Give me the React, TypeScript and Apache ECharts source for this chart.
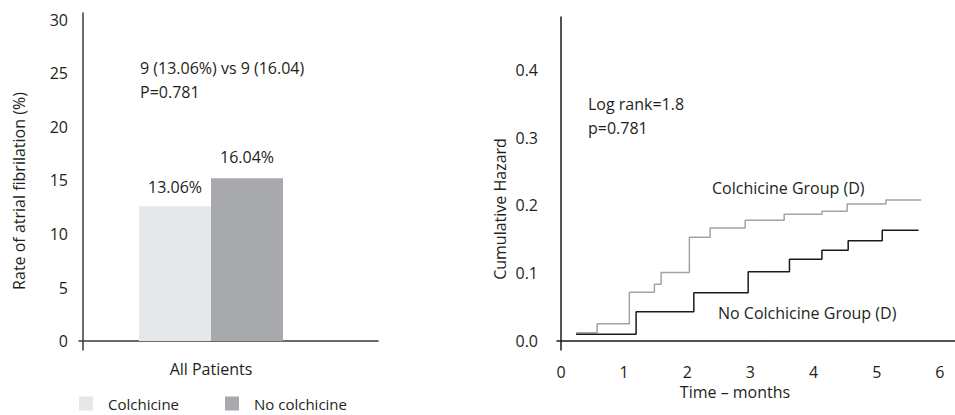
import React, { useEffect, useRef } from "react";
import * as echarts from "echarts";

// Left panel: bar chart
const barCategories = ["All Patients"];
const barSeriesNames = ["Colchicine", "No colchicine"];
const barValues = [12.6, 15.2];
const barLabels = ["13.06%", "16.04%"];
const leftTicks = [0, 5, 10, 15, 20, 25, 30];

// Right panel: cumulative hazard step curves [months, hazard]
const colchicineCurve: [number, number][] = [
  [0.238, 0.012], [0.571, 0.0255], [1.082, 0.0719], [1.479, 0.0837], [1.585, 0.1011],
  [2.033, 0.1531], [2.361, 0.1668], [2.916, 0.1782], [3.534, 0.187], [4.132, 0.1914],
  [4.532, 0.2022], [5.147, 0.2081], [5.705, 0.2081],
];
const noColchicineCurve: [number, number][] = [
  [0.238, 0.01], [1.189, 0.0432], [2.103, 0.0713], [2.964, 0.1023], [3.618, 0.1206],
  [4.132, 0.1337], [4.548, 0.1479], [5.087, 0.1632], [5.662, 0.1632],
];
const rightYTicks = [0, 0.1, 0.2, 0.3, 0.4];
const rightXTicks = [0, 1, 2, 3, 4, 5, 6];

const FONT = "Open Sans";
const TXT = "#231f20";
const FS = 16;

export default function App() {
  const ref = useRef<HTMLDivElement>(null);
  useEffect(() => {
    if (!ref.current) return;
    const chart = echarts.init(ref.current, undefined, { renderer: "svg" });
    const txt = (text: string, x: number, y: number, extra: any = {}) => ({
      type: "text",
      x,
      y,
      ...extra,
      style: {
        text,
        fill: TXT,
        fontFamily: FONT,
        fontSize: FS,
        textAlign: extra.align || "left",
        textVerticalAlign: "middle",
      },
    });
    chart.setOption({
      animation: false,
      textStyle: { fontFamily: FONT, color: TXT },
      legend: {
        data: barSeriesNames,
        left: 79,
        top: 396,
        padding: 0,
        itemWidth: 14,
        itemHeight: 14,
        itemGap: 46,
        icon: "rect",
        textStyle: {
          fontFamily: FONT, fontSize: 15, color: TXT, lineHeight: 14,
          padding: [0, 0, 0, 10],
        },
      },
      grid: [
        { left: 79, right: 577, top: 13, bottom: 65 },
        { left: 557, right: 0, top: 17, bottom: 65 },
      ],
      xAxis: [
        {
          gridIndex: 0,
          type: "category",
          data: barCategories,
          axisLine: { onZero: true, lineStyle: { color: "#3a3a3a", width: 1.5 } },
          axisTick: { show: false },
          axisLabel: {
            color: TXT, fontFamily: FONT, fontSize: FS, margin: 11,
            padding: [0, 35, 0, 0],
          },
          splitLine: { show: false },
        },
        {
          gridIndex: 1,
          type: "value",
          min: -0.064,
          max: 6.24,
          axisLine: { onZero: true, lineStyle: { color: "#1a1a1a", width: 1.5 } },
          axisTick: { show: false },
          axisLabel: {
            customValues: rightXTicks,
            color: TXT, fontFamily: FONT, fontSize: FS, margin: 14,
          },
          splitLine: { show: false },
        },
      ],
      yAxis: [
        {
          gridIndex: 0,
          type: "value",
          min: -0.84,
          max: 30.65,
          offset: -4,
          axisLine: { show: true, onZero: false, lineStyle: { color: "#3a3a3a", width: 1.5 } },
          axisTick: { show: false },
          axisLabel: {
            customValues: leftTicks,
            color: TXT, fontFamily: FONT, fontSize: FS, margin: 15,
          },
          splitLine: { show: false },
        },
        {
          gridIndex: 1,
          type: "value",
          min: -0.0133,
          max: 0.478,
          axisLine: { show: true, onZero: true, lineStyle: { color: "#1a1a1a", width: 1.5 } },
          axisTick: { show: false },
          axisLabel: {
            customValues: rightYTicks,
            formatter: (v: number) => v.toFixed(1),
            color: TXT, fontFamily: FONT, fontSize: FS, margin: 19,
          },
          splitLine: { show: false },
        },
      ],
      series: [
        {
          name: barSeriesNames[0],
          type: "bar",
          xAxisIndex: 0,
          yAxisIndex: 0,
          data: [barValues[0]],
          barWidth: 72,
          barGap: 0,
          itemStyle: { color: "#e6e7e8" },
          label: {
            show: true, position: "top", distance: 11,
            formatter: () => barLabels[0],
            color: TXT, fontFamily: FONT, fontSize: FS,
          },
        },
        {
          name: barSeriesNames[1],
          type: "bar",
          xAxisIndex: 0,
          yAxisIndex: 0,
          data: [barValues[1]],
          barWidth: 72,
          barGap: 0,
          itemStyle: { color: "#a7a9ac" },
          label: {
            show: true, position: "top", distance: 13,
            formatter: () => barLabels[1],
            color: TXT, fontFamily: FONT, fontSize: FS,
          },
        },
        {
          name: "spacer",
          type: "bar",
          xAxisIndex: 0,
          yAxisIndex: 0,
          data: [0],
          barWidth: 35,
          barGap: 0,
          silent: true,
          itemStyle: { color: "rgba(0,0,0,0)" },
        },
        {
          name: "Colchicine Group (D)",
          type: "line",
          xAxisIndex: 1,
          yAxisIndex: 1,
          step: "end",
          showSymbol: false,
          data: colchicineCurve,
          lineStyle: { color: "#a3a3a3", width: 1.5 },
        },
        {
          name: "No Colchicine Group (D)",
          type: "line",
          xAxisIndex: 1,
          yAxisIndex: 1,
          step: "end",
          showSymbol: false,
          data: noColchicineCurve,
          lineStyle: { color: "#1a1a1a", width: 1.5 },
        },
      ],
      graphic: [
        txt("9 (13.06%) vs 9 (16.04)", 140, 68),
        txt("P=0.781", 140, 92),
        txt("Rate of atrial fibrilation (%)", 19, 191, { rotation: Math.PI / 2, align: "center" }),
        txt("Log rank=1.8", 588, 104),
        txt("p=0.781", 588, 128),
        txt("Colchicine Group (D)", 712, 188),
        txt("No Colchicine Group (D)", 718, 313),
        txt("Cumulative Hazard", 500, 209, { rotation: Math.PI / 2, align: "center" }),
        txt("Time – months", 735, 392, { align: "center" }),
      ],
    });
    return () => chart.dispose();
  }, []);
  return (
    <div
      ref={ref}
      style={{ position: "fixed", left: 0, top: 0, width: 955, height: 415, background: "#fff" }}
    />
  );
}
